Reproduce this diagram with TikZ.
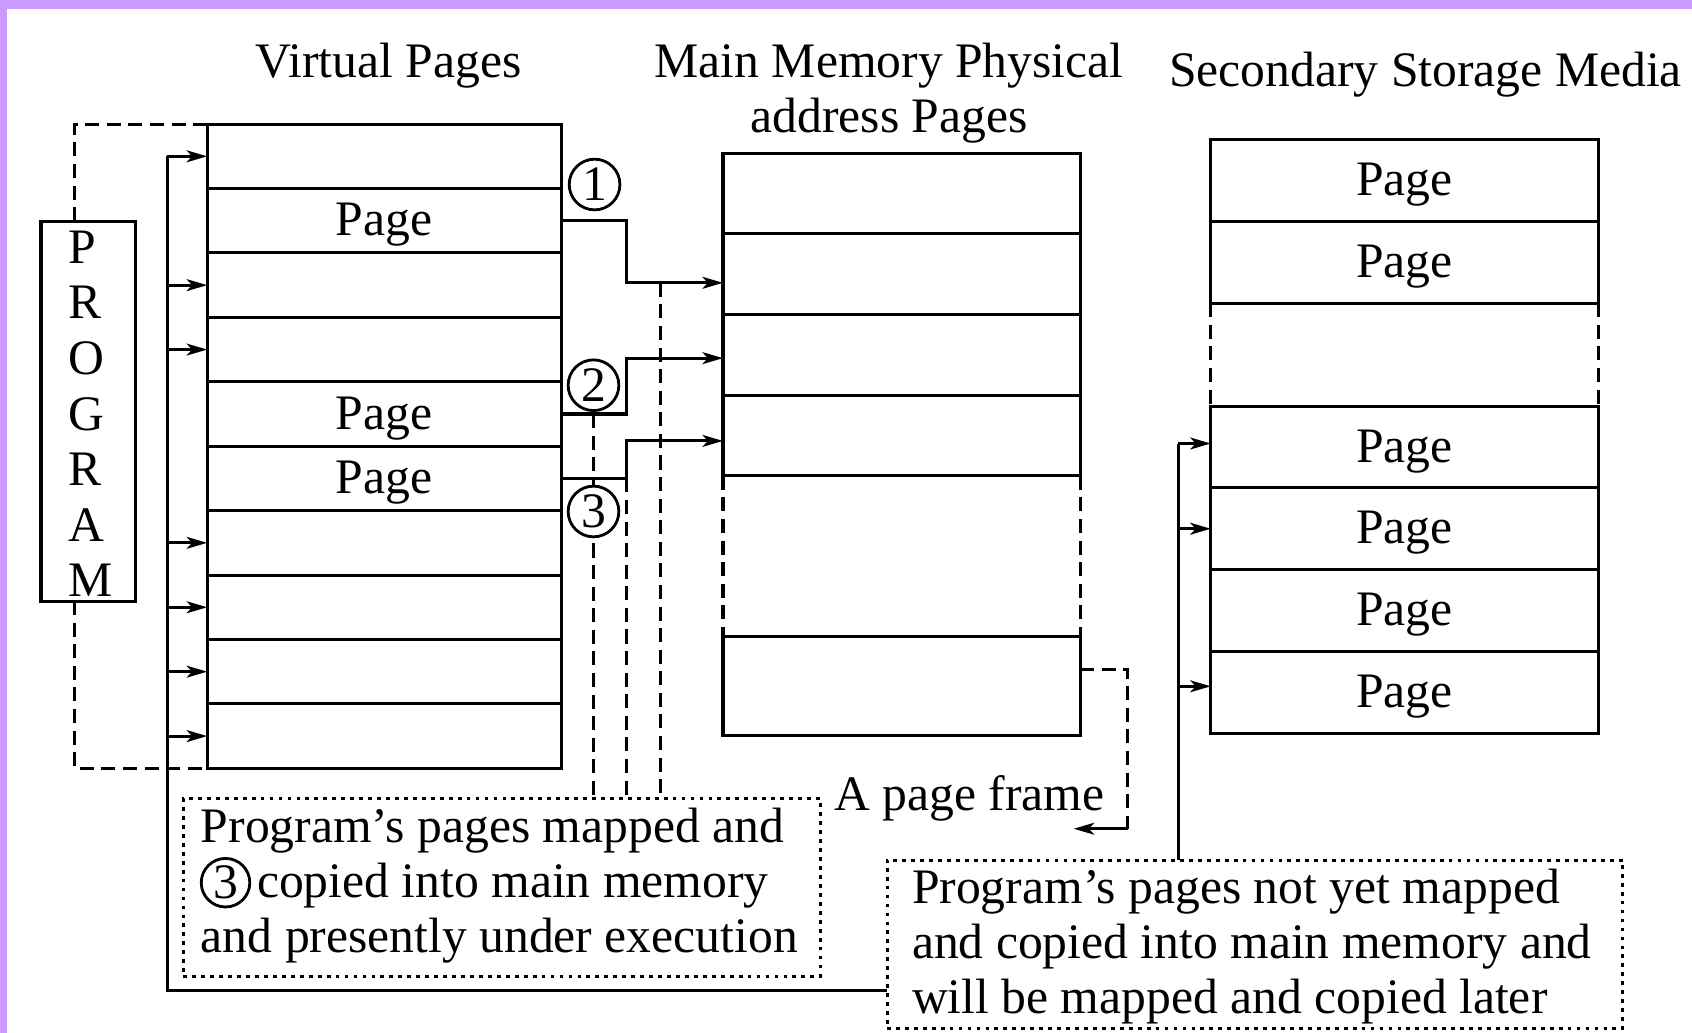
\documentclass[tikz,border=0pt]{standalone}
\usepackage{fontspec}
\setmainfont{Liberation Serif}
\usetikzlibrary{arrows.meta,calc}
\definecolor{bord}{RGB}{204,153,255}
\newcommand\pgtxt{\smash{\raisebox{-14pt}{Page}}}
\begin{document}
\begin{tikzpicture}[x=1pt,y=-1pt,
  font=\fontsize{46}{51.5}\selectfont,
  ln/.style={line width=2.8pt},
  cell/.style={draw,line width=2.8pt,inner sep=0pt,outer sep=0pt},
  vcell/.style={cell,minimum width=328pt,minimum height=59.7pt},
  mcell/.style={cell,minimum width=331pt,minimum height=74.75pt},
  scell/.style={cell,minimum width=359pt},
  dsh/.style={line width=2.8pt,dash pattern=on 13pt off 7pt},
  dotbox/.style={draw,line width=2.8pt,dash pattern=on 3.5pt off 4.8pt,inner sep=0pt,outer sep=0pt},
  arr/.style={line width=2.8pt,-{Stealth[length=19pt,width=11pt,inset=5pt]}},
  cnum/.style={circle,draw,line width=2.6pt,fill=white,inner sep=0pt,minimum size=47pt},
  txt/.style={inner sep=0pt,anchor=base west},
  ctxt/.style={inner sep=0pt,anchor=base},
]
\useasboundingbox (0,0) rectangle (1568,957);
\fill[white] (0,0) rectangle (1568,957);
\fill[bord] (0,0) rectangle (1568,8.3);
\fill[bord] (0,0) rectangle (6.8,957);

% titles
\node[ctxt] (tv) at (360,72) {Virtual Pages};
\node[ctxt] (tm1) at (824,72) {Main Memory Physical};
\node[ctxt] (tm2) at (824,123) {address Pages};
\node[ctxt] (ts) at (1321,80) {Secondary Storage Media};

% program box
\node[cell,minimum width=88pt,minimum height=352pt] (prog) at (82,381) {};
\foreach \l [count=\k from 0] in {P,R,O,G,R,A,M}
  \node[txt] (pg\k) at (63,{244+51.5*\k}) {\l};

% virtual pages
\node[vcell] (v1) at (356,144.85) {};
\node[vcell] (v2) at (356,204.55) {\pgtxt};
\node[vcell] (v3) at (356,264.25) {};
\node[vcell] (v4) at (356,323.95) {};
\node[vcell] (v5) at (356,383.65) {\pgtxt};
\node[vcell] (v6) at (356,443.35) {\pgtxt};
\node[vcell] (v7) at (356,503.05) {};
\node[vcell] (v8) at (356,562.75) {};
\node[vcell] (v9) at (356,622.45) {};
\node[vcell] (v10) at (356,682.15) {};

% main memory
\node[mcell] (m1) at (835.5,179.4) {};
\node[mcell] (m2) at (835.5,254.1) {};
\node[mcell] (m3) at (835.5,328.9) {};
\node[mcell] (m4) at (835.5,403.6) {};
\node[cell,minimum width=331pt,minimum height=92pt] (m5) at (835.5,636) {};
\draw[dsh] (m4.south west) -- (m5.north west);
\draw[dsh] (m4.south east) -- (m5.north east);

% secondary storage
\node[scell,minimum height=76pt] (s1) at (1301.5,167) {\pgtxt};
\node[scell,minimum height=76pt] (s2) at (1301.5,243) {\pgtxt};
\node[inner sep=0pt,outer sep=0pt,minimum width=359pt,minimum height=96pt] (sgap) at (1301.5,329) {};
\node[scell,minimum height=75pt] (s3) at (1301.5,414.5) {\pgtxt};
\node[scell,minimum height=76pt] (s4) at (1301.5,490) {\pgtxt};
\node[scell,minimum height=76pt] (s5) at (1301.5,566) {\pgtxt};
\node[scell,minimum height=76pt] (s6) at (1301.5,642) {\pgtxt};
\draw[dsh] (sgap.north west) -- (sgap.south west);
\draw[dsh] (sgap.north east) -- (sgap.south east);

% dotted boxes
\node[dotbox,minimum width=590pt,minimum height=165pt] (lbox) at (465,822.5) {};
\node[dotbox,minimum width=682pt,minimum height=156pt] (rbox) at (1163,875) {};
\node[txt] (lt1) at (186,781) {Program’s pages mapped and};
\node[cnum,minimum size=45pt] (c3b) at (209,818) {3};
\node[txt] (lt2) at (238,832) {copied into main memory};
\node[txt] (lt3) at (186,883) {and presently under execution};
\node[txt] (rt1) at (845,837) {Program’s pages not yet mapped};
\node[txt] (rt2) at (845,888) {and copied into main memory and};
\node[txt] (rt3) at (845,939) {will be mapped and copied later};

% program dashed links
\coordinate (pt) at (69,113);
\draw[dsh] (prog.north -| pt) |- (v1.north west);
\draw[dsh] (prog.south -| pt) |- (v10.south west);

% left bus
\coordinate (lt) at (155,144.85);
\coordinate (bl) at (155,918);
\draw[ln] (lt) -- (bl) -- (bl -| rbox.west);
\foreach \i in {1,3,4,7,8,9,10}
  \draw[arr] (v\i.west -| lt) -- (v\i.west);

% connectors to main memory
\coordinate (a1) at ($(m2.west)+(0,8)$);
\coordinate (a2) at ($(m3.west)+(0,3)$);
\coordinate (a3) at ($(m4.west)+(0,5)$);
\coordinate (x612) at (612,0);
\coordinate (x581) at (581,0);
\draw[arr] (v2.east) -- ++(61,0) |- (a1);
\draw[arr] (v5.east) -- ++(61,0) |- (a2);
\draw[arr] (v6.east) -- ++(61,0) |- (a3);

% circled numbers
\node[cnum] (c1) at (551,171) {1};
\node[cnum] (c2) at (550,357) {2};
\coordinate (c3x) at (550,474);
\draw[dsh] (v5.east -| c3x) -- (lbox.north -| c3x);
\draw[dsh] (v6.east -| x581) -- (lbox.north -| x581);
\draw[dsh] (a1 -| x612) -- (lbox.north -| x612);
\node[cnum] (c3) at (c3x) {3};

% page frame
\node[txt] (apf) at (773,751) {A page frame};
\coordinate (pf1) at (1045,620);
\coordinate (pf2) at (1045,768);
\coordinate (pf3) at (995,768);
\draw[dsh] (pf1 -| m5.east) -- (pf1) -- (pf2);
\draw[arr] (pf2) -- (pf3);

% secondary bus
\coordinate (sl) at (1092,411);
\draw[ln] (sl) -- (rbox.north -| sl);
\draw[arr] (sl) -- (sl -| s3.west);
\draw[arr] (s4.west -| sl) -- (s4.west);
\coordinate (s6a) at (1092,636);
\draw[arr] (s6a) -- (s6a -| s6.west);
\end{tikzpicture}
\end{document}
